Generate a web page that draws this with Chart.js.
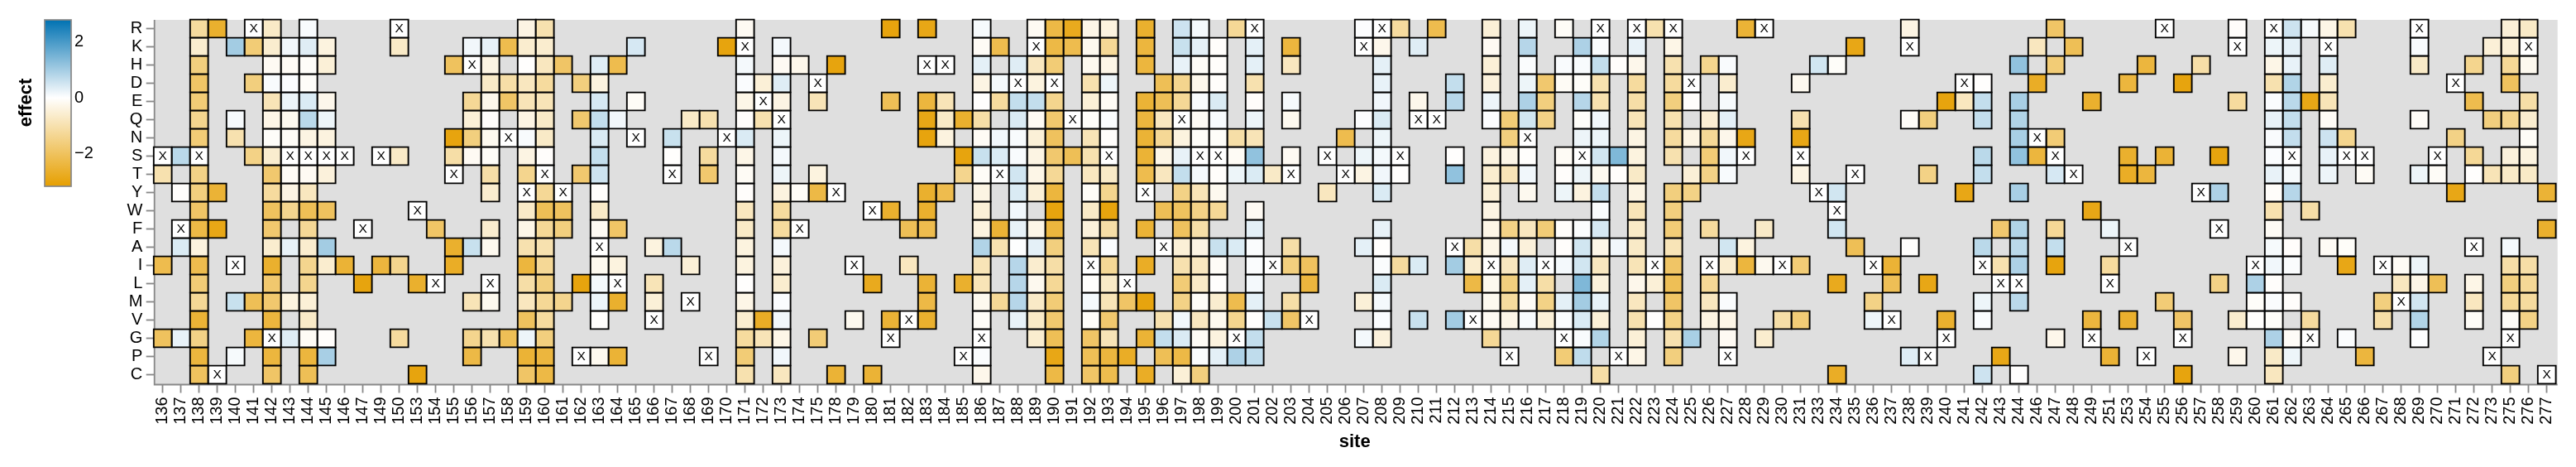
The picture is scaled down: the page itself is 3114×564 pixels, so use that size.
<!DOCTYPE html>
<html>
<head>
<meta charset="utf-8">
<title>effect by site</title>
<script src="https://cdn.jsdelivr.net/npm/chart.js@4/dist/chart.umd.min.js"></script>
<style>
  html, body { margin: 0; padding: 0; background: #fff; }
  canvas { display: block; }
</style>
</head>
<body>
<canvas id="heatmap" width="3114" height="564"></canvas>
<script>
const X = 'X'; // wildtype residue at that site, drawn white with a letter

const aminoAcids = ['R', 'K', 'H', 'D', 'E', 'Q', 'N', 'S', 'T', 'Y', 'W', 'F', 'A', 'I', 'L', 'M', 'V', 'G', 'P', 'C'];

const sites = [136, 137, 138, 139, 140, 141, 142, 143, 144, 145, 146, 147, 149, 150, 153, 154, 155, 156, 157, 158, 159, 160, 161, 162, 163, 164, 165, 166, 167, 168, 169, 170, 171, 172, 173, 174, 175, 178, 179, 180, 181, 182, 183, 184, 185, 186, 187, 188, 189, 190, 191, 192, 193, 194, 195, 196, 197, 198, 199, 200, 201, 202, 203, 204, 205, 206, 207, 208, 209, 210, 211, 212, 213, 214, 215, 216, 217, 218, 219, 220, 221, 222, 223, 224, 225, 226, 227, 228, 229, 230, 231, 233, 234, 235, 236, 237, 238, 239, 240, 241, 242, 243, 244, 246, 247, 248, 249, 251, 253, 254, 255, 256, 257, 258, 259, 260, 261, 262, 263, 264, 265, 266, 267, 268, 269, 270, 271, 272, 273, 275, 276, 277];

const legendTicks = [2, 0, -2];

// measured effects per site: residue, value, residue, value...
const s136 = ['S',X,'T',-1,'I',-2.2,'G',-2];
const s137 = ['S',.75,'Y',-.05,'F',X,'A',.4,'G',.25];
const s138 = ['R',-1.2,'K',-.6,'H',-1.6,'D',-1.9,'E',-1.7,'Q',-1.4,'N',-1.7,'S',X,'T',-1.5,'Y',-1.6,'W',-1.9,'F',-2.3,'A',-.4,'I',-2.2,'L',-1.7,'M',-1.3,'V',-2.5,'G',-1.5,'P',-2.4,'C',-2];
const s139 = ['R',-2.6,'Y',-2.5,'F',-2.9,'C',X];
const s140 = ['K',1,'Q',.1,'N',-1,'I',X,'M',.6,'P',.1];
const s141 = ['R',X,'K',-1.7,'D',-1.6,'S',-1.5,'M',-2.1,'G',-2.4];
const s142 = ['R',-.7,'K',-.6,'H',-.15,'D',.08,'E',-.9,'Q',-.3,'N',-.08,'S',-.6,'T',-1.8,'Y',-1.2,'W',-2,'F',-1.8,'A',-.6,'I',-2.6,'L',-1.8,'M',-1.8,'V',-2.4,'G',X,'P',-2.4,'C',-1.9];
const s143 = ['K',.15,'H',-.12,'D',.05,'E',.2,'Q',-.2,'N',-.1,'S',X,'T',-.12,'Y',-.35,'W',-1.4,'A',.25,'M',-.4,'G',.35];
const s144 = ['R',.08,'K',.35,'H',-.08,'D',-.08,'E',.4,'Q',.75,'N',-.35,'S',X,'T',-.15,'Y',-.8,'W',-2.1,'F',-1.3,'A',-.6,'I',-1.4,'L',-1.4,'M',-.5,'V',-.7,'G',-.12,'P',-2.4,'C',-2.1];
const s145 = ['K',-.4,'H',-.5,'E',-.25,'Q',.2,'N',-.4,'S',X,'T',-.45,'W',-2,'A',1,'I',-.6,'G',-.05,'P',.95];
const s146 = ['S',X,'I',-2.5];
const s147 = ['F',X,'L',-3];
const s149 = ['S',X,'I',-2.4];
const s150 = ['R',X,'K',-.7,'S',-.7,'I',-1.4,'G',-1.2];
const s153 = ['W',X,'L',-2.6,'C',-3];
const s154 = ['F',-1.9,'L',X];
const s155 = ['H',-2,'N',-3,'S',-1.1,'T',X,'A',-2.6,'I',-2.7];
const s156 = ['K',.15,'H',X,'E',-1.3,'Q',-.5,'N',-1.6,'S',-.15,'A',.6,'M',-.9,'G',-1.4,'P',-2.3];
const s157 = ['K',.25,'H',-.35,'D',-.7,'E',-.25,'Q',-.05,'N',-.2,'S',-.1,'T',-1.1,'Y',-.6,'F',-.6,'A',-.2,'L',X,'M',-.2,'G',-1];
const s158 = ['K',-2.2,'D',-1.1,'E',-1.9,'N',X,'G',-2.1];
const s159 = ['R',-.35,'K',-.6,'H',-.03,'D',-.8,'E',-.9,'Q',-.35,'N',.08,'S',-.35,'T',-1.4,'Y',X,'W',-.7,'F',-.3,'A',-1,'I',-2.4,'L',-1.1,'M',-.8,'V',-2,'G',.2,'P',-2.5,'C',-1.9];
const s160 = ['R',-1,'K',-.6,'H',-.8,'D',-1.2,'E',-.9,'Q',-.7,'N',-.7,'S',-.05,'T',X,'Y',-1.3,'W',-2.1,'F',-1.3,'A',-1,'I',-1.3,'L',-1.6,'M',-1.3,'V',-1.2,'G',-1.6,'P',-2.4,'C',-2.3];
const s161 = ['H',-1.9,'Y',X,'W',-2,'F',-1.6,'M',-1.4];
const s162 = ['D',-1.6,'Q',-1.8,'T',-1.8,'L',-3,'P',X];
const s163 = ['H',.35,'D',-.4,'E',.45,'Q',.65,'N',.4,'S',.65,'T',.55,'Y',-.04,'W',-.7,'F',-.15,'A',X,'I',-.2,'L',.12,'M',.2,'V',-.03,'P',-.2];
const s164 = ['H',-2.2,'Q',.15,'F',-1.9,'I',-.4,'L',X,'M',-2.6,'P',-2.5];
const s165 = ['K',.45,'E',-.1,'N',X];
const s166 = ['A',-.4,'L',-.9,'M',-.5,'V',X];
const s167 = ['N',.6,'S',-.03,'T',X,'A',.75];
const s168 = ['Q',-.7,'I',-.5,'M',X];
const s169 = ['Q',-1,'S',-1.2,'T',-1.8,'P',X];
const s170 = ['K',-3,'N',X];
const s171 = ['R',-.15,'K',X,'H',.12,'D',.05,'E',-.3,'Q',-.05,'N',.4,'S',-.3,'T',-.12,'Y',-.05,'W',-.8,'F',-.7,'A',-.4,'I',-.4,'L',-.03,'M',-.3,'V',-.6,'G',-1.2,'P',-1.7,'C',-1];
const s172 = ['D',-.5,'E',X,'Q',-1,'V',-2.7,'G',-.9];
const s173 = ['K',.12,'H',-.15,'D',.35,'E',-.35,'Q',X,'N',.2,'S',.12,'T',.2,'Y',-.4,'W',-1.2,'F',-1.2,'A',.12,'I',-.45,'L',-.6,'M',.05,'V',.15,'G',-.3,'P',.15,'C',-.8];
const s174 = ['H',-.25,'Y',-.1,'F',X];
const s175 = ['D',X,'E',-.9,'T',-.4,'Y',-2.3,'G',-1.7];
const s178 = ['H',-3,'Y',X,'C',-2.5];
const s179 = ['I',X,'V',-.2];
const s180 = ['W',X,'L',-2.8,'C',-2.5];
const s181 = ['R',-3,'E',-2.1,'W',-2.6,'V',-2.5,'G',X];
const s182 = ['F',-2.1,'I',-.8,'V',X];
const s183 = ['R',-2.9,'H',X,'E',-2.4,'Q',-2.9,'N',-3,'Y',-2.6,'W',-2.6,'F',-2.2,'L',-2.5,'M',-2.3,'V',-2.6];
const s184 = ['H',X,'E',-.9,'Q',-.7,'N',-.4,'Y',-2.2];
const s185 = ['Q',-2.6,'S',-3,'T',-1.4,'L',-2.6,'P',X];
const s186 = ['R',.1,'K',-.12,'H',.3,'D',-.35,'E',-.03,'Q',-1.1,'N',-.12,'S',.6,'T',-.1,'Y',-.35,'W',-.5,'F',-.4,'A',.85,'I',-.9,'L',-.9,'M',-.2,'V',-.1,'G',X,'P',.06,'C',-.25];
const s187 = ['K',-2.2,'D',.12,'E',-1.2,'N',.15,'S',.4,'T',X,'F',-2.5,'A',-1,'M',-1.3];
const s188 = ['H',.35,'D',X,'E',.65,'Q',.4,'N',.08,'S',.08,'T',.5,'Y',.4,'W',.15,'F',.25,'A',.02,'I',.8,'L',.8,'M',.8,'V',.25];
const s189 = ['R',-.15,'K',X,'H',-.8,'D',-.4,'E',.65,'Q',-.15,'N',-.5,'S',-.35,'T',-.3,'Y',-.5,'F',-.3,'A',.3,'I',-.6,'L',-.2,'M',-.7,'V',-.7,'G',-.6];
const s190 = ['R',-2.3,'K',-2.3,'H',-1.7,'D',X,'E',-1.4,'Q',-1.8,'N',-2,'S',-1.8,'T',-1.3,'Y',-2.4,'W',-3,'F',-2.4,'A',-1.6,'I',-1.1,'L',-1.3,'M',-1.7,'V',-1.8,'G',-2.1,'P',-2.9,'C',-2.3];
const s191 = ['R',-2.8,'K',-2.2,'Q',X,'S',-2.1];
const s192 = ['R',-.3,'K',-.2,'H',-.2,'D',-1,'E',-.5,'Q',-.07,'N',-.9,'S',-1,'T',-.8,'Y',-.1,'W',-.7,'F',-.45,'A',-.9,'I',X,'L',-.04,'M',.12,'V',-.08,'G',-1.9,'P',-2.1,'C',-1.9];
const s193 = ['R',-.4,'K',-1.3,'H',-.3,'D',.2,'E',-.12,'Q',.06,'N',-.05,'S',X,'T',-.7,'Y',-1.4,'W',-3,'F',-1.1,'A',.05,'I',-1.3,'L',-.7,'M',-.9,'V',-1.8,'G',-.9,'P',-2.4,'C',-2.2];
const s194 = ['L',X,'M',-1.9,'P',-2.7];
const s195 = ['R',-2.6,'K',-2.4,'H',-2.4,'E',-2.5,'Q',-2.4,'N',-2.5,'S',-2.5,'T',-2.2,'Y',X,'F',-2.5,'I',-2.7,'M',-3,'G',-2.5,'C',-2.7];
const s196 = ['D',-2.1,'E',-2.1,'Q',-.8,'N',-1.3,'S',-.3,'T',-.8,'W',-2.1,'A',X,'V',-1,'G',.65,'P',-2.1];
const s197 = ['R',.55,'K',.6,'H',.25,'D',-1.4,'E',-1.3,'Q',X,'N',-.4,'S',.25,'T',.65,'Y',-1.5,'W',-2,'F',-2,'A',-.5,'I',-1,'L',-1.7,'M',-1.5,'V',.15,'G',.4,'P',-2.3,'C',-.5];
const s198 = ['R',.12,'K',.3,'H',-.1,'D',-.25,'E',.08,'Q',-.12,'N',-.08,'S',X,'T',.12,'Y',-.9,'W',-1.5,'F',-1.1,'A',-.35,'I',-.8,'L',-.7,'M',-.1,'V',-.8,'G',-.12,'P',.06,'C',-1.6];
const s199 = ['K',-.05,'H',-.05,'D',-.05,'E',.4,'Q',.08,'N',-.07,'S',X,'T',-.05,'Y',-.2,'W',-1.3,'A',.6,'I',-.1,'L',-.03,'M',-.6,'V',-.2,'G',-.4,'P',.3];
const s200 = ['R',-1.3,'N',-1.1,'S',-.12,'T',.2,'A',.4,'M',-2.2,'V',-1.4,'G',X,'P',.9];
const s201 = ['R',X,'K',.3,'H',.3,'D',-1,'E',-.05,'Q',.2,'N',-.9,'S',1.2,'T',.4,'W',-.15,'F',.3,'A',.06,'I',.06,'L',.12,'M',.3,'V',-.04,'G',.65,'P',.7];
const s202 = ['T',-.7,'I',X,'V',.6];
const s203 = ['K',-2.4,'H',-.8,'E',.1,'Q',-.2,'S',-.15,'T',X,'A',-1.1,'I',-1.6,'M',-1.1,'V',-1.9];
const s204 = ['I',-2,'L',-2.4,'V',X];
const s205 = ['S',X,'Y',-.8];
const s206 = ['N',-2.2,'T',X];
const s207 = ['R',.03,'K',X,'Q',.03,'S',.2,'T',-.35,'A',.3,'M',-.5,'G',.12];
const s208 = ['R',X,'K',-.25,'H',.3,'D',.25,'E',.15,'Q',.4,'N',.2,'S',.12,'T',.15,'Y',.4,'F',.25,'A',-.03,'I',.06,'L',.4,'M',.12,'V',.05,'G',-.45];
const s209 = ['R',-1.2,'S',X,'T',-.03,'I',-1.2];
const s210 = ['K',.35,'E',-.25,'Q',X,'I',.4,'V',.6];
const s211 = ['R',-2.2,'Q',X];
const s212 = ['D',.65,'E',.8,'S',-.03,'T',1.2,'A',X,'I',1,'V',1];
const s213 = ['A',-1.1,'I',-.6,'L',-2.3,'V',X];
const s214 = ['R',-.5,'K',-.15,'H',-.5,'D',-.45,'E',.2,'Q',.03,'S',-.4,'T',-.6,'Y',-.5,'W',-.35,'F',-.3,'A',-.3,'I',X,'L',-.2,'M',-.2,'V',-.15,'G',-1.3];
const s215 = ['Q',-1.7,'N',-1.6,'S',-.3,'T',-.9,'F',-1.5,'A',.12,'I',-.8,'L',-1.6,'M',-1.2,'V',-.3,'P',X];
const s216 = ['R',.2,'K',.8,'H',.06,'D',.2,'E',.9,'Q',.5,'N',X,'S',-.04,'T',.15,'Y',-.2,'F',-.8,'A',-.45,'I',.35,'L',.3,'M',-.12,'V',.08];
const s217 = ['D',-1.8,'E',-1.6,'Q',-1.5,'F',-1.7,'I',X,'L',-1.1,'M',-1.5,'V',-.5];
const s218 = ['R',-.1,'H',.07,'D',-.12,'S',-.12,'T',-.05,'Y',.2,'F',-.06,'A',-.05,'I',.12,'M',.3,'V',.06,'G',X,'P',-1.7];
const s219 = ['K',.9,'H',.08,'D',-.07,'E',.8,'Q',-.08,'N',.2,'S',X,'T',.2,'Y',-.4,'F',.06,'A',.5,'I',.5,'L',1.4,'M',1,'V',.4,'G',.08,'P',.7];
const s220 = ['R',X,'K',.06,'H',.65,'D',-1,'E',-1,'Q',.15,'N',.2,'S',.5,'T',-.2,'Y',.65,'W',.06,'F',.45,'A',-.3,'I',-.8,'L',-.45,'M',.25,'V',-.5,'G',.85,'C',-1.1];
const s221 = ['H',-.05,'S',1.4,'T',-.05,'A',.15,'P',X];
const s222 = ['R',X,'K',.25,'H',-.25,'D',-1.2,'E',-1.1,'Q',-.9,'N',-.35,'S',-.4,'T',-.7,'Y',-.35,'W',-.9,'F',-.7,'A',-.7,'I',-.9,'L',-.25,'M',-.8,'V',-1,'G',-.5,'P',-.3];
const s223 = ['R',-1,'I',X,'L',-.5,'V',-.03];
const s224 = ['R',X,'K',-.3,'H',-1,'D',-1.2,'E',-1.6,'Q',-1,'N',-1.2,'S',-1,'Y',-1.6,'W',-1.6,'F',-1.7,'A',-.9,'I',-1.9,'L',-2.1,'M',-1.9,'V',-1.5,'G',-1,'P',-1.6];
const s225 = ['D',X,'E',-.05,'N',-.35,'T',-.5,'Y',-1.5,'G',.95];
const s226 = ['H',-1.4,'Q',-.55,'N',-1.3,'S',-1.7,'T',-1.5,'F',-1.2,'I',X,'L',-1.3,'M',-.8,'V',-.35];
const s227 = ['H',.07,'D',-.6,'E',.1,'Q',.3,'N',-.25,'S',.15,'T',.08,'A',.5,'I',-.6,'M',.06,'V',-.3,'G',-.15,'P',X];
const s228 = ['R',-2.5,'N',-2.9,'S',X,'A',-.4,'I',-2.4];
const s229 = ['R',X,'F',-.7,'I',-.2,'G',-.6];
const s230 = ['I',X,'V',-1.1];
const s231 = ['D',-.2,'Q',-1,'N',-2.9,'S',X,'T',-.35,'I',-1.7,'V',-1.7];
const s233 = ['H',.5,'Y',X];
const s234 = ['H',-.07,'Y',.5,'W',X,'F',.5,'L',-2.8,'C',-2.7];
const s235 = ['K',-2.9,'T',X,'A',-2.1];
const s236 = ['I',X,'M',-1.5,'V',.2];
const s237 = ['I',-2.5,'L',-2.1,'V',X];
const s238 = ['R',-.35,'K',X,'Q',-.1,'A',-.04,'P',.35];
const s239 = ['Q',-1.6,'T',-1.5,'L',-2.9,'P',X];
const s240 = ['E',-3,'V',-2.6,'G',X];
const s241 = ['D',X,'E',-.8,'Y',-2.9];
const s242 = ['D',-.03,'E',.65,'Q',.65,'S',.75,'T',.65,'A',.75,'I',X,'M',.2,'V',.05,'C',.55];
const s243 = ['F',-1.8,'I',-1,'L',X,'P',-2.9];
const s244 = ['H',1.2,'E',.95,'Q',.85,'N',.95,'S',1.2,'Y',.95,'F',.85,'A',.75,'I',.9,'L',X,'M',.75,'C',-.03];
const s246 = ['K',-.8,'D',-2.7,'N',X,'S',-2.4];
const s247 = ['R',-1.9,'H',-1.7,'N',-1.7,'S',X,'T',.45,'F',-1.3,'A',.65,'I',-3,'G',-.25];
const s248 = ['K',-2.1,'T',X];
const s249 = ['E',-2.6,'W',-2.9,'V',-2.4,'G',X];
const s251 = ['F',.2,'I',-1.2,'L',X,'P',-2.5];
const s253 = ['D',-2.4,'S',-2.6,'T',-2.7,'A',X,'V',-2.6];
const s254 = ['H',-2.4,'T',-2.4,'P',X];
const s255 = ['R',X,'S',-2.5,'M',-1.7];
const s256 = ['D',-3,'V',-1.9,'G',X,'C',-3];
const s257 = ['H',-1.1,'Y',X];
const s258 = ['S',-3,'Y',.9,'F',X,'L',-1.5];
const s259 = ['R',-.05,'K',X,'E',-1.2,'V',-.6,'P',-.25];
const s260 = ['I',X,'L',.9,'M',-.07,'V',-.04];
const s261 = ['R',X,'K',.2,'H',-.3,'D',-1,'E',.05,'Q',.25,'N',.07,'S',.05,'T',.25,'Y',-.06,'W',-1,'F',-.12,'A',.1,'I',.15,'L',-.05,'M',.06,'V',-.08,'G',.9,'P',-.7,'C',-.8];
const s262 = ['R',.55,'K',.3,'H',.25,'D',.85,'E',.75,'Q',.65,'N',.65,'S',X,'T',.1,'Y',.8,'A',-.05,'I',.06,'M',-.05,'G',-.1,'P',.2];
const s263 = ['R',.1,'E',-2.9,'W',-1.1,'V',-1.2,'G',X];
const s264 = ['R',-.3,'K',X,'H',.35,'D',-.6,'E',-.9,'Q',-.12,'N',.55,'S',.25,'T',.2,'A',-.12];
const s265 = ['R',-1,'N',-1.4,'S',X,'A',-.07,'I',-2.9,'G',.06];
const s266 = ['S',X,'T',-.12,'P',-2.4];
const s267 = ['I',X,'M',-1.6,'V',-1.1];
const s268 = ['I',-.12,'L',-.8,'M',X];
const s269 = ['R',X,'K',.08,'H',-.7,'Q',-.1,'T',.2,'I',.2,'L',-.3,'M',.5,'V',.85,'G',.03];
const s270 = ['S',X,'T',-.1,'L',-2.1];
const s271 = ['D',X,'N',-1.5,'Y',-2.9];
const s272 = ['H',-1.4,'E',-2.2,'S',-1.3,'T',-.03,'A',X,'L',-.3,'M',-.8,'V',-.1];
const s273 = ['K',-.5,'Q',-1.6,'T',-.9,'P',X];
const s275 = ['R',-.5,'K',-.5,'H',-1.3,'D',-2,'Q',-1.4,'S',-.45,'T',-.7,'A',.12,'I',-1.1,'L',-1.6,'M',-1.3,'V',-.1,'G',X,'C',-1.6];
const s276 = ['R',-.7,'K',X,'H',-.2,'E',-1.1,'Q',-.6,'N',-.1,'S',-.4,'T',-.7,'I',-1.1,'L',-1.3,'M',-1.2,'V',-1.5];
const s277 = ['Y',-2.5,'F',-2.6,'C',X];

const siteLists = [s136, s137, s138, s139, s140, s141, s142, s143, s144, s145, s146, s147, s149, s150, s153, s154, s155, s156, s157, s158, s159, s160, s161, s162, s163, s164, s165, s166, s167, s168, s169, s170, s171, s172, s173, s174, s175, s178, s179, s180, s181, s182, s183, s184, s185, s186, s187, s188, s189, s190, s191, s192, s193, s194, s195, s196, s197, s198, s199, s200, s201, s202, s203, s204, s205, s206, s207, s208, s209, s210, s211, s212, s213, s214, s215, s216, s217, s218, s219, s220, s221, s222, s223, s224, s225, s226, s227, s228, s229, s230, s231, s233, s234, s235, s236, s237, s238, s239, s240, s241, s242, s243, s244, s246, s247, s248, s249, s251, s253, s254, s255, s256, s257, s258, s259, s260, s261, s262, s263, s264, s265, s266, s267, s268, s269, s270, s271, s272, s273, s275, s276, s277];

const EFFECT_MIN = -3.17;
const EFFECT_MAX = 2.785;
const FONT = '"Liberation Sans", Arial, sans-serif';

function effectAt(col, residue) {
    const list = siteLists[col];
    const i = list.indexOf(residue);
    return i < 0 ? null : list[i + 1];
}

function effectColor(v) {
    if (v === null) return 'transparent';
    if (v === X) return '#fff';
    const target = v < 0 ? [230, 159, 0] : [0, 114, 178];
    const t = v < 0 ? v / EFFECT_MIN : v / EFFECT_MAX;
    const rgb = target.map(c => Math.round(255 + (c - 255) * t));
    return `rgb(${rgb[0]}, ${rgb[1]}, ${rgb[2]})`;
}

const datasets = aminoAcids.map((residue, row) => ({
    label: residue,
    data: sites.map((_, col) => effectAt(col, residue) === null ? null : [row - 0.5, row + 0.5]),
    backgroundColor: sites.map((_, col) => effectColor(effectAt(col, residue))),
    borderColor: '#000',
    borderWidth: 2.1,
    inflateAmount: 1.05,
    borderSkipped: false,
    grouped: false,
    barPercentage: 1,
    categoryPercentage: 1,
    clip: false
}));

// grey panel and axis lines sit about 1px off the cell grid in the original
const panelPlugin = {
    id: 'panel',
    beforeDraw(chart) {
        const { ctx, chartArea: a } = chart;
        ctx.save();
        ctx.fillStyle = '#dfdfdf';
        ctx.fillRect(a.left + 1, a.top + 0.5, a.right - a.left + 1, a.bottom - a.top + 0.5);
        ctx.strokeStyle = '#888';
        ctx.lineWidth = 1.83;
        ctx.beginPath();
        ctx.moveTo(a.left + 1, a.top + 0.5);
        ctx.lineTo(a.left + 1, a.bottom + 1);
        ctx.lineTo(a.right + 2, a.bottom + 1);
        ctx.stroke();
        ctx.restore();
    }
};

const wildtypePlugin = {
    id: 'wildtype',
    afterDatasetsDraw(chart) {
        const { ctx, scales } = chart;
        ctx.save();
        ctx.fillStyle = '#000';
        ctx.font = `15.5px ${FONT}`;
        ctx.textAlign = 'center';
        ctx.textBaseline = 'middle';
        sites.forEach((_, col) => {
            aminoAcids.forEach((residue, row) => {
                if (effectAt(col, residue) === X) {
                    ctx.fillText(X, scales.x.getPixelForValue(col), scales.y.getPixelForValue(row) + 0.5);
                }
            });
        });
        ctx.restore();
    }
};

const colorLegendPlugin = {
    id: 'colorLegend',
    afterDraw(chart) {
        const { ctx } = chart;
        const x = 54, y = 24, w = 32, h = 201;
        const valueY = v => y + (EFFECT_MAX - v) / (EFFECT_MAX - EFFECT_MIN) * h;
        const grad = ctx.createLinearGradient(0, y, 0, y + h);
        grad.addColorStop(0, effectColor(EFFECT_MAX));
        grad.addColorStop((valueY(0) - y) / h, '#fff');
        grad.addColorStop(1, effectColor(EFFECT_MIN));
        ctx.save();
        ctx.fillStyle = grad;
        ctx.fillRect(x, y, w, h);
        ctx.strokeStyle = '#888';
        ctx.lineWidth = 1.7;
        ctx.strokeRect(x, y, w, h);
        ctx.fillStyle = '#000';
        ctx.font = `20px ${FONT}`;
        ctx.textAlign = 'left';
        ctx.textBaseline = 'middle';
        legendTicks.forEach(v => {
            ctx.fillText(v < 0 ? '\u2212' + Math.abs(v) : String(v), 90, valueY(v));
        });
        ctx.translate(32, 124);
        ctx.rotate(-Math.PI / 2);
        ctx.font = `bold 22px ${FONT}`;
        ctx.textAlign = 'center';
        ctx.fillText('effect', 0, 0);
        ctx.restore();
    }
};

new Chart(document.getElementById('heatmap'), {
    type: 'bar',
    data: { labels: sites.map(String), datasets },
    plugins: [panelPlugin, wildtypePlugin, colorLegendPlugin],
    options: {
        responsive: false,
        animation: false,
        devicePixelRatio: 1,
        layout: { padding: { left: 0, top: 23.5, right: 24.3, bottom: 0 } },
        plugins: { legend: { display: false }, tooltip: { enabled: false } },
        scales: {
            x: {
                offset: true,
                afterFit(scale) { scale.height = 100.5; },
                grid: { offset: false, drawOnChartArea: false, tickLength: 11, tickWidth: 1.83, tickColor: '#888' },
                border: { display: false },
                ticks: { autoSkip: false, minRotation: 90, maxRotation: 90, padding: 5, color: '#000', font: { family: FONT, size: 20 } },
                title: { display: true, text: 'site', color: '#000', padding: { top: 0, bottom: 17 }, font: { family: FONT, size: 22, weight: 'bold' } }
            },
            y: {
                type: 'linear',
                reverse: true,
                min: -0.5,
                max: aminoAcids.length - 0.5,
                afterFit(scale) { scale.width = 185.7; },
                afterBuildTicks(scale) { scale.ticks = aminoAcids.map((_, i) => ({ value: i })); },
                grid: { drawOnChartArea: false, tickLength: 9, tickWidth: 1.83, tickColor: '#888' },
                border: { display: false },
                ticks: { autoSkip: false, padding: 4.4, color: '#000', font: { family: FONT, size: 20 }, callback: value => aminoAcids[value] }
            }
        }
    }
});
</script>
</body>
</html>
